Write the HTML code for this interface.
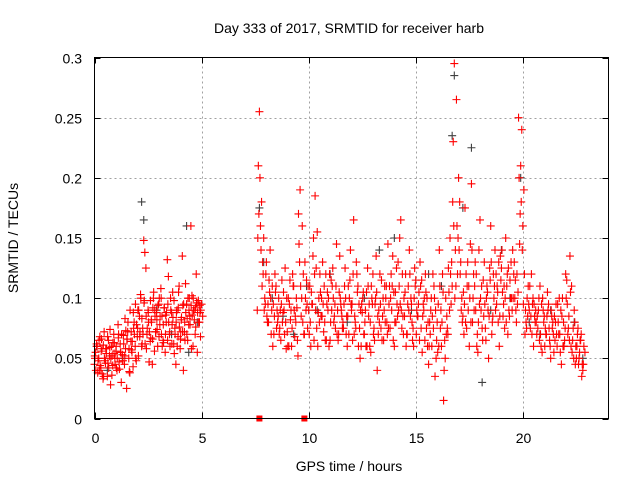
<!DOCTYPE html>
<html><head><meta charset="utf-8"><style>
html,body{margin:0;padding:0;background:#fff;}
svg{display:block;font-family:"Liberation Sans",sans-serif;}
</style></head><body>
<svg id="chart" width="640" height="480" viewBox="0 0 640 480" xmlns="http://www.w3.org/2000/svg">
<rect x="0" y="0" width="640" height="480" fill="#fff"/>
<text x="349" y="33" font-size="14" text-anchor="middle" fill="#000">Day 333 of 2017, SRMTID for receiver harb</text>
<text x="349" y="471" font-size="14" text-anchor="middle" fill="#000">GPS time / hours</text>
<text x="0" y="0" font-size="14" text-anchor="middle" fill="#000" transform="translate(18,238) rotate(-90)">SRMTID / TECUs</text>
<g id="grid"></g>
<g id="ticks"></g>
<g id="series-gray"></g>
<g id="series-red"></g>
<rect x="94.5" y="57.5" width="514" height="361" fill="none" stroke="#000" stroke-width="1"/>
</svg>
<script>
const xTicks=[0,5,10,15,20];
const yTicks=[0,0.05,0.1,0.15,0.2,0.25,0.3];
const yTickLabels=["0","0.05","0.1","0.15","0.2","0.25","0.3"];
const gapT=[7.7,9.8];
const grayT=[0.1,0.6,1.3,2.2,2.3,2.9,3.6,4.3,4.4,4.8,7.7,7.9,8.3,8.8,9.3,9.9,10.4,11.0,11.8,12.6,13.3,14.0,14.8,15.6,16.2,16.7,16.8,17.2,17.6,18.1,18.5,19.0,19.4,19.9,20.3,20.8,21.3,21.9,22.4,22.8];
const grayV=[.060,.040,.050,.180,.165,.090,.070,.160,.055,.080,.175,.130,.100,.085,.070,.110,.090,.120,.080,.100,.140,.150,.090,.120,.110,.235,.285,.175,.225,.030,.090,.140,.100,.200,.080,.070,.090,.060,.080,.050];
const redA=[.045,.055,.062,.038,.050,.068,.042,.058,.033,.072,.048,.054,.035,.065,.052,.028,.060,.044,.070,.050,
.056,.040,.078,.047,.062,.030,.053,.069,.045,.058,.025,.072,.050,.038,.064,.055,.043,.080,.060,.048,
.068,.052,.085,.103,.060,.075,.148,.138,.125,.070,.090,.047,.064,.082,.045,.100,.056,.072,.088,.060,
.095,.078,.108,.085,.065,.092,.055,.080,.132,.118,.070,.100,.088,.105,.062,.075,.045,.090,.068,.110,
.058,.082,.135,.040,.072,.112,.095,.065,.078,.085,.160,.102,.060,.090,.070,.120,.055,.098,.080,.068,.095,.085];
const redA2=[.050,.060,.040,.066,.035,.058,.046,.074,.052,.063,.042,.070,.055,.048,.083,.066,.039,.057,.075,.050,
.090,.072,.062,.098,.058,.080,.067,.092,.085,.074,.100,.070,.063,.086,.095,.060,.078,.054,.088,.105,
.072,.094,.065,.083,.100,.058,.090,.076,.096,.088];
const redA3=[.052,.040,.060,.048,.065,.044,.056,.037,.061,.050,.046,.058,.068,.042,.059,.050,.036,.063,.054,.045,
.060,.050,.067,.041,.055,.070,.048,.062,.052,.073,.066,.080,.058,.090,.072,.064,.088,.070,.095,.078,
.075,.090,.068,.100,.083,.070,.096,.062,.085,.075,.088,.072,.098,.080,.066,.105,.090,.072,.082,.094,
.068,.085,.100,.060,.078,.092,.070,.088,.065,.080,.072,.090,.062,.084,.098,.070,.080,.060,.092,.076,
.066,.084,.072,.095,.080,.088,.070,.100,.090,.078,.094,.086,.100,.082,.092,.096,.088,.080,.094,.090];
const redB=[.090,.255,.180,.150,.120,.095,.140,.110,.085,.075,.100,.065,.088,.125,.072,.095,.060,.110,.080,.052,
.190,.160,.070,.115,.090,.060,.135,.185,.155,.080,.100,.072,.120,.090,.065,.110,.085,.145,.070,.095,
.080,.125,.060,.100,.090,.165,.075,.110,.050,.088,.070,.105,.085,.055,.120,.095,.040,.080,.115,.065,
.100,.145,.075,.110,.060,.125,.090,.165,.085,.105,.070,.140,.095,.060,.115,.085,.130,.055,.100,.075,
.045,.090,.120,.035,.080,.140,.060,.015,.100,.070,.150,.110,.295,.265,.200,.130,.085,.175,.110,.060,
.195,.120,.090,.055,.165,.075,.130,.100,.050,.160,.085,.140,.110,.060,.125,.095,.150,.070,.115,.090,
.130,.080,.250,.210,.160,.070,.100,.090,.120,.060,.090,.075,.110,.055,.085,.070,.095,.050,.080,.065,
.060,.100,.045,.080,.120,.070,.135,.055,.090,.050,.045,.065,.040,.055];
const redB2=[.210,.160,.130,.100,.085,.115,.070,.095,.105,.080,.075,.115,.090,.058,.100,.082,.120,.068,.092,.145,
.085,.120,.100,.075,.110,.095,.065,.125,.088,.105,.130,.080,.095,.060,.115,.100,.075,.090,.135,.085,
.095,.070,.110,.140,.065,.085,.120,.095,.060,.105,.090,.125,.060,.100,.075,.135,.070,.095,.085,.110,
.080,.095,.120,.065,.105,.085,.150,.075,.100,.060,.110,.085,.065,.125,.090,.105,.075,.095,.120,.060,
.080,.060,.110,.050,.095,.075,.120,.065,.085,.105,.095,.230,.140,.120,.180,.100,.070,.120,.090,.145,
.080,.110,.060,.140,.090,.115,.075,.105,.125,.070,.100,.120,.080,.135,.105,.075,.110,.090,.130,.100,
.115,.095,.145,.240,.190,.080,.110,.075,.095,.085,.070,.100,.060,.090,.075,.105,.065,.085,.055,.095,
.080,.055,.100,.065,.115,.085,.060,.075,.045,.070,.055,.035,.060];
const redB3=[.150,.200,.110,.090,.130,.080,.100,.060,.120,.090,.070,.095,.105,.080,.060,.115,.075,.090,.100,.170,
.110,.080,.130,.095,.070,.105,.150,.090,.060,.120,.085,.110,.065,.100,.080,.125,.095,.070,.105,.090,
.075,.100,.085,.115,.095,.070,.130,.060,.090,.100,.080,.060,.095,.110,.070,.100,.085,.120,.065,.090,
.110,.075,.100,.135,.080,.095,.110,.090,.070,.120,.095,.120,.080,.100,.070,.095,.110,.085,.065,.100,
.060,.100,.075,.090,.055,.110,.080,.040,.070,.125,.120,.180,.100,.160,.140,.090,.105,.080,.130,.100,
.140,.090,.120,.080,.100,.065,.095,.110,.085,.130,.120,.090,.105,.085,.140,.110,.080,.125,.100,.140,
.100,.120,.200,.180,.095,.090,.085,.110,.070,.095,.080,.090,.070,.100,.060,.085,.075,.090,.070,.080,
.095,.070,.085,.060,.100,.075,.105,.065,.080,.060,.050,.070,.045];
const redB4=[.170,.140,.120,.095,.080,.105,.090,.070,.110,.085,.090,.080,.070,.100,.060,.090,.110,.085,.065,.130,
.100,.070,.090,.110,.080,.095,.120,.075,.100,.085,.095,.065,.105,.120,.090,.080,.110,.065,.100,.075,
.110,.085,.070,.095,.120,.080,.105,.075,.095,.070,.060,.110,.080,.095,.065,.105,.090,.075,.100,.080,
.070,.110,.090,.105,.080,.130,.095,.120,.085,.070,.090,.100,.075,.110,.085,.065,.115,.090,.105,.080,
.070,.085,.100,.065,.060,.090,.105,.050,.075,.090,.130,.160,.110,.150,.120,.080,.095,.075,.110,.080,
.100,.130,.070,.095,.110,.085,.065,.090,.115,.080,.110,.095,.130,.115,.085,.100,.120,.085,.100,.120,
.090,.105,.170,.140,.120,.075,.095,.085,.100,.080,.085,.065,.095,.080,.070,.090,.060,.075,.085,.070,
.070,.090,.060,.075,.095,.065,.110,.050,.060,.075,.065,.045];
const NS="http://www.w3.org/2000/svg";
const X0=94.5,X1=608.5,Y0=418.5,Y1=57.5;
function xs(t){return X0+(X1-X0)*t/24;}
function ys(v){return Y0-(Y0-Y1)*v/0.3;}
function mk(tag,attrs,parent){const e=document.createElementNS(NS,tag);for(const k in attrs)e.setAttribute(k,attrs[k]);parent.appendChild(e);return e;}
const grid=document.getElementById('grid'),ticks=document.getElementById('ticks');
xTicks.forEach(t=>{
  const x=Math.round(xs(t))+0.5;
  if(t>0){const g=mk('line',{x1:x,y1:Y0,x2:x,y2:Y1,stroke:'#a0a0a0','stroke-dasharray':'2,3'},grid);
  
  }
  mk('line',{x1:x,y1:Y0,x2:x,y2:Y0-6,stroke:'#000'},ticks);
  mk('line',{x1:x,y1:Y1,x2:x,y2:Y1+6,stroke:'#000'},ticks);
  const l=mk('text',{x:x,y:443,'font-size':14,'text-anchor':'middle',fill:'#000'},ticks);
  l.textContent=String(t);
  
  
});
yTicks.forEach((v,i)=>{
  const y=Math.round(ys(v))+0.5;
  if(i>0&&i<yTicks.length-1){const g=mk('line',{x1:X0,y1:y,x2:X1,y2:y,stroke:'#a0a0a0','stroke-dasharray':'2,3'},grid);
  
  }
  mk('line',{x1:X0,y1:y,x2:X0+6,y2:y,stroke:'#000'},ticks);
  mk('line',{x1:X1,y1:y,x2:X1-6,y2:y,stroke:'#000'},ticks);
  const l=mk('text',{x:82,y:y+5,'font-size':14,'text-anchor':'end',fill:'#000'},ticks);
  l.textContent=yTickLabels[i];
  
  
});
function plus(parent,t,v,color){
  const x=xs(t),y=ys(v);
  const p=mk('path',{d:`M${x-4} ${y}H${x+4}M${x} ${y-4}V${y+4}`,stroke:color,'stroke-width':1.1,fill:'none'},parent);
  
  
}
const gG=document.getElementById('series-gray'),gR=document.getElementById('series-red');
grayT.forEach((t,i)=>plus(gG,t,grayV[i],'#404040'));
redA.forEach((v,i)=>plus(gR,i*0.05,v,'#ff0000'));
redA2.forEach((v,i)=>plus(gR,0.025+i*0.1,v,'#ff0000'));
redA3.forEach((v,i)=>plus(gR,0.0125+i*0.05,v,'#ff0000'));
redB.forEach((v,i)=>plus(gR,7.6+i*0.1,v,'#ff0000'));
redB2.forEach((v,i)=>plus(gR,7.65+i*0.1,v,'#ff0000'));
redB3.forEach((v,i)=>plus(gR,7.625+i*0.1,v,'#ff0000'));
redB4.forEach((v,i)=>plus(gR,7.675+i*0.1,v,'#ff0000'));
gapT.forEach(t=>{
  const r=mk('rect',{x:xs(t)-3,y:Y0-3,width:6,height:6,fill:'#ff0000'},gR);
  
  
});
</script>
</body></html>
